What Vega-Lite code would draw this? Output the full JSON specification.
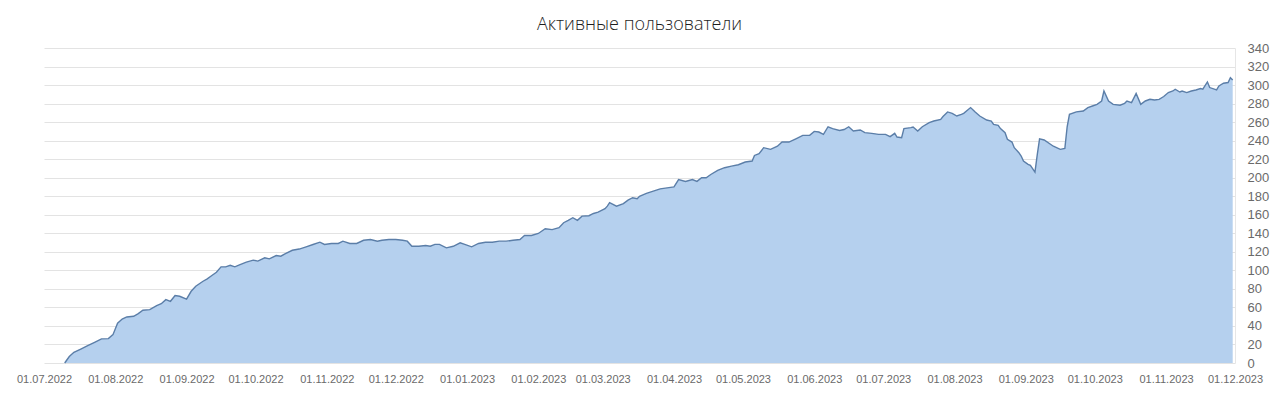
{
  "$schema": "https://vega.github.io/schema/vega-lite/v6.json",
  "autosize": {"type": "none"},
  "padding": {"left": 44, "top": 48, "right": 45, "bottom": 34},
  "width": 1191,
  "height": 315,
  "background": "white",
  "title": {"text": "Активные пользователи", "font": "Open Sans", "fontSize": 18, "fontWeight": 300, "color": "#1e1e1e", "anchor": "middle", "offset": 8},
  "config": {"view": {"stroke": null}},
  "data": {"values": [
    {"d":"2022-07-10","v":0},{"d":"2022-07-12","v":7},{"d":"2022-07-14","v":11.5},{"d":"2022-07-17","v":15},{"d":"2022-07-20","v":18.7},{"d":"2022-07-23","v":22.3},{"d":"2022-07-26","v":26},{"d":"2022-07-29","v":26.3},{"d":"2022-07-31","v":30.6},
    {"d":"2022-08-02","v":43},{"d":"2022-08-04","v":47.5},{"d":"2022-08-06","v":49.7},{"d":"2022-08-09","v":50.4},{"d":"2022-08-11","v":53.3},{"d":"2022-08-13","v":57},{"d":"2022-08-16","v":57.6},{"d":"2022-08-19","v":62},{"d":"2022-08-21","v":64},{"d":"2022-08-23","v":68.4},{"d":"2022-08-25","v":66.6},{"d":"2022-08-27","v":72.8},{"d":"2022-08-29","v":72},
    {"d":"2022-09-01","v":69},{"d":"2022-09-03","v":77.4},{"d":"2022-09-05","v":82.8},{"d":"2022-09-08","v":88},{"d":"2022-09-10","v":90.8},{"d":"2022-09-12","v":94.4},{"d":"2022-09-14","v":98},{"d":"2022-09-16","v":103.8},{"d":"2022-09-18","v":103.8},{"d":"2022-09-20","v":105.5},{"d":"2022-09-22","v":103.8},{"d":"2022-09-24","v":106},{"d":"2022-09-27","v":108.8},{"d":"2022-09-30","v":111},
    {"d":"2022-10-02","v":110},{"d":"2022-10-05","v":113.5},{"d":"2022-10-07","v":112.4},{"d":"2022-10-10","v":116},{"d":"2022-10-12","v":115.3},{"d":"2022-10-14","v":118},{"d":"2022-10-17","v":121.7},{"d":"2022-10-20","v":123},{"d":"2022-10-23","v":125.4},{"d":"2022-10-26","v":127.9},{"d":"2022-10-29","v":130.4},{"d":"2022-10-31","v":128},
    {"d":"2022-11-03","v":129},{"d":"2022-11-06","v":129},{"d":"2022-11-08","v":131.5},{"d":"2022-11-11","v":129},{"d":"2022-11-14","v":129},{"d":"2022-11-17","v":132.5},{"d":"2022-11-20","v":133.3},{"d":"2022-11-23","v":131.5},{"d":"2022-11-25","v":132.5},{"d":"2022-11-28","v":133.3},
    {"d":"2022-12-01","v":133.3},{"d":"2022-12-04","v":132.5},{"d":"2022-12-06","v":131.5},{"d":"2022-12-08","v":126},{"d":"2022-12-11","v":126},{"d":"2022-12-14","v":126.8},{"d":"2022-12-16","v":126},{"d":"2022-12-18","v":128},{"d":"2022-12-20","v":128},{"d":"2022-12-23","v":124.3},{"d":"2022-12-26","v":126},{"d":"2022-12-29","v":129.7},{"d":"2022-12-31","v":128},
    {"d":"2023-01-03","v":125.4},{"d":"2023-01-06","v":129},{"d":"2023-01-09","v":130.4},{"d":"2023-01-12","v":130.4},{"d":"2023-01-15","v":131.5},{"d":"2023-01-18","v":131.5},{"d":"2023-01-21","v":132.5},{"d":"2023-01-24","v":133.3},{"d":"2023-01-26","v":137.6},{"d":"2023-01-29","v":137.6},
    {"d":"2023-02-01","v":139.8},{"d":"2023-02-04","v":144.9},{"d":"2023-02-07","v":144},{"d":"2023-02-10","v":146},{"d":"2023-02-12","v":151.4},{"d":"2023-02-14","v":154},{"d":"2023-02-16","v":156.8},{"d":"2023-02-18","v":154},{"d":"2023-02-20","v":158.5},{"d":"2023-02-23","v":159},{"d":"2023-02-25","v":161.4},{"d":"2023-02-27","v":162.8},
    {"d":"2023-03-02","v":166.5},{"d":"2023-03-03","v":169.3},{"d":"2023-03-04","v":173},{"d":"2023-03-07","v":169.3},{"d":"2023-03-10","v":172},{"d":"2023-03-12","v":175.8},{"d":"2023-03-14","v":178.4},{"d":"2023-03-16","v":177.3},{"d":"2023-03-17","v":180},{"d":"2023-03-20","v":183},{"d":"2023-03-23","v":185.5},{"d":"2023-03-26","v":188},{"d":"2023-03-29","v":189},
    {"d":"2023-04-01","v":190},{"d":"2023-04-03","v":198},{"d":"2023-04-06","v":196},{"d":"2023-04-09","v":198},{"d":"2023-04-11","v":196},{"d":"2023-04-13","v":200},{"d":"2023-04-15","v":200},{"d":"2023-04-17","v":203.5},{"d":"2023-04-20","v":208},{"d":"2023-04-23","v":210.8},{"d":"2023-04-26","v":212.5},{"d":"2023-04-29","v":214},
    {"d":"2023-05-02","v":216.9},{"d":"2023-05-05","v":218},{"d":"2023-05-06","v":224},{"d":"2023-05-08","v":226},{"d":"2023-05-10","v":232.4},{"d":"2023-05-13","v":230.6},{"d":"2023-05-16","v":234},{"d":"2023-05-18","v":238.5},{"d":"2023-05-21","v":238.5},{"d":"2023-05-24","v":242},{"d":"2023-05-27","v":245.7},{"d":"2023-05-30","v":245.7},
    {"d":"2023-06-01","v":250},{"d":"2023-06-03","v":249.3},{"d":"2023-06-05","v":246.8},{"d":"2023-06-07","v":255},{"d":"2023-06-09","v":253},{"d":"2023-06-12","v":251},{"d":"2023-06-14","v":252},{"d":"2023-06-16","v":255},{"d":"2023-06-18","v":250.4},{"d":"2023-06-21","v":251.5},{"d":"2023-06-23","v":248.6},{"d":"2023-06-26","v":247.9},{"d":"2023-06-29","v":246.8},
    {"d":"2023-07-02","v":246.8},{"d":"2023-07-04","v":244.3},{"d":"2023-07-06","v":247.9},{"d":"2023-07-07","v":243.9},{"d":"2023-07-09","v":243.2},{"d":"2023-07-10","v":253},{"d":"2023-07-13","v":254},{"d":"2023-07-14","v":254.7},{"d":"2023-07-16","v":250.4},{"d":"2023-07-18","v":255},{"d":"2023-07-21","v":259.5},{"d":"2023-07-23","v":261.2},{"d":"2023-07-26","v":263},{"d":"2023-07-27","v":266},{"d":"2023-07-29","v":271},{"d":"2023-07-31","v":269.5},
    {"d":"2023-08-02","v":266.6},{"d":"2023-08-04","v":268.4},{"d":"2023-08-05","v":269.5},{"d":"2023-08-08","v":275.7},{"d":"2023-08-10","v":271},{"d":"2023-08-12","v":266.6},{"d":"2023-08-15","v":262.3},{"d":"2023-08-17","v":261.2},{"d":"2023-08-18","v":257.6},{"d":"2023-08-20","v":256.5},{"d":"2023-08-21","v":253},{"d":"2023-08-23","v":248.6},{"d":"2023-08-24","v":241.4},{"d":"2023-08-26","v":238.5},{"d":"2023-08-27","v":232.4},{"d":"2023-08-29","v":227},{"d":"2023-08-30","v":223.4},{"d":"2023-08-31","v":218},
    {"d":"2023-09-02","v":214.4},{"d":"2023-09-03","v":213.3},{"d":"2023-09-05","v":206},{"d":"2023-09-06","v":225},{"d":"2023-09-07","v":242},{"d":"2023-09-09","v":240.7},{"d":"2023-09-13","v":234},{"d":"2023-09-16","v":230.6},{"d":"2023-09-18","v":231.7},{"d":"2023-09-19","v":255},{"d":"2023-09-20","v":268.4},{"d":"2023-09-23","v":271},{"d":"2023-09-26","v":272},{"d":"2023-09-28","v":275.7},{"d":"2023-09-30","v":277.4},
    {"d":"2023-10-02","v":279.2},{"d":"2023-10-04","v":282.8},{"d":"2023-10-05","v":293.6},{"d":"2023-10-07","v":282.8},{"d":"2023-10-09","v":279.2},{"d":"2023-10-12","v":278.2},{"d":"2023-10-14","v":280.3},{"d":"2023-10-15","v":282.8},{"d":"2023-10-17","v":281},{"d":"2023-10-19","v":291},{"d":"2023-10-21","v":279.2},{"d":"2023-10-23","v":282.8},{"d":"2023-10-25","v":284.6},{"d":"2023-10-27","v":283.9},{"d":"2023-10-29","v":284.6},{"d":"2023-10-31","v":287.6},
    {"d":"2023-11-02","v":291.9},{"d":"2023-11-04","v":293.6},{"d":"2023-11-05","v":295.5},{"d":"2023-11-07","v":292.5},{"d":"2023-11-08","v":293.6},{"d":"2023-11-10","v":291.9},{"d":"2023-11-12","v":293.6},{"d":"2023-11-14","v":294.7},{"d":"2023-11-16","v":296.2},{"d":"2023-11-17","v":295.5},{"d":"2023-11-19","v":303.4},{"d":"2023-11-20","v":297.3},{"d":"2023-11-23","v":294.7},{"d":"2023-11-24","v":299},{"d":"2023-11-26","v":302},{"d":"2023-11-28","v":302.7},{"d":"2023-11-29","v":308},{"d":"2023-11-30","v":305.5}
  ]},
  "mark": {"type": "area", "color": "#b5d0ee", "fillOpacity": 1, "line": {"color": "#5b7ea8", "strokeWidth": 1.4}},
  "encoding": {
    "x": {
      "field": "d", "type": "temporal", "title": null,
      "scale": {"type": "utc", "domain": [{"year": 2022, "month": 7, "date": 1, "utc": true}, {"year": 2023, "month": 12, "date": 1, "utc": true}]},
      "axis": {
        "format": "%d.%m.%Y", "grid": false, "domain": false, "ticks": false, "tickSize": 0, "labelPadding": 10,
        "labelFont": "Liberation Sans", "labelFontSize": 11, "labelColor": "#6a6a6a", "labelOverlap": false, "labelFlush": false,
        "values": [
          {"year": 2022, "month": 7, "date": 1, "utc": true}, {"year": 2022, "month": 8, "date": 1, "utc": true}, {"year": 2022, "month": 9, "date": 1, "utc": true},
          {"year": 2022, "month": 10, "date": 1, "utc": true}, {"year": 2022, "month": 11, "date": 1, "utc": true}, {"year": 2022, "month": 12, "date": 1, "utc": true},
          {"year": 2023, "month": 1, "date": 1, "utc": true}, {"year": 2023, "month": 2, "date": 1, "utc": true}, {"year": 2023, "month": 3, "date": 1, "utc": true},
          {"year": 2023, "month": 4, "date": 1, "utc": true}, {"year": 2023, "month": 5, "date": 1, "utc": true}, {"year": 2023, "month": 6, "date": 1, "utc": true},
          {"year": 2023, "month": 7, "date": 1, "utc": true}, {"year": 2023, "month": 8, "date": 1, "utc": true}, {"year": 2023, "month": 9, "date": 1, "utc": true},
          {"year": 2023, "month": 10, "date": 1, "utc": true}, {"year": 2023, "month": 11, "date": 1, "utc": true}, {"year": 2023, "month": 12, "date": 1, "utc": true}
        ]
      }
    },
    "y": {
      "field": "v", "type": "quantitative", "title": null,
      "scale": {"domain": [0, 340], "nice": false},
      "axis": {
        "orient": "right", "values": [0,20,40,60,80,100,120,140,160,180,200,220,240,260,280,300,320,340],
        "grid": true, "gridColor": "#e3e3e3", "gridWidth": 1, "domain": true, "domainColor": "#e6e6e6", "ticks": false, "tickSize": 0, "labelPadding": 12,
        "labelFont": "Liberation Sans", "labelFontSize": 13, "labelColor": "#6a6a6a", "labelOverlap": false, "labelFlush": false
      }
    }
  }
}
